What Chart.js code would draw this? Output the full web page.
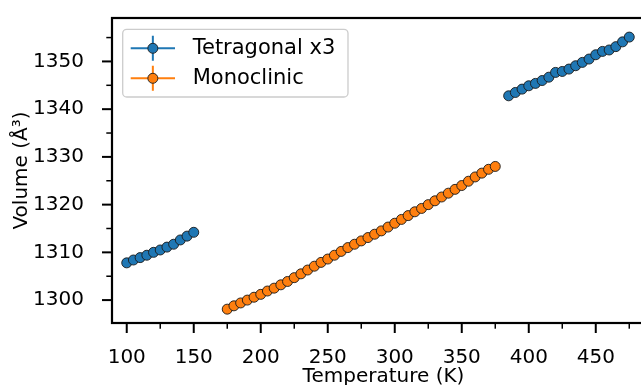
<!DOCTYPE html>
<html>
<head>
<meta charset="utf-8">
<title>Volume vs temperature</title>
<script src="https://cdn.jsdelivr.net/npm/chart.js@4.4.1/dist/chart.umd.min.js"></script>
<style>
  html, body { margin: 0; padding: 0; overflow: hidden; background: #fff; }
  #wrap { position: relative; width: 680px; height: 400px; }
</style>
</head>
<body>
<div id="wrap"><canvas id="volChart" width="680" height="400"></canvas></div>
<script>
// tetragonal cell (x3), low temperature branch
const tetraLowT = [100, 105, 110, 115, 120, 125, 130, 135, 140, 145, 150];
const tetraLowV = [1307.8, 1308.4, 1308.9, 1309.4, 1310.0, 1310.5, 1311.1, 1311.7, 1312.6, 1313.4, 1314.2];

// tetragonal cell (x3), high temperature branch
const tetraHighT = [385, 390, 395, 400, 405, 410, 415, 420, 425, 430, 435, 440, 445, 450, 455, 460, 465, 470, 475];
const tetraHighV = [1342.8, 1343.5, 1344.2, 1344.9, 1345.4, 1346.0, 1346.7, 1347.7, 1347.9, 1348.4,
                    1349.1, 1349.8, 1350.5, 1351.4, 1352.1, 1352.4, 1353.1, 1354.1, 1355.1];

// monoclinic cell
const monoT = [175, 180, 185, 190, 195, 200, 205, 210, 215, 220, 225, 230, 235, 240, 245, 250, 255, 260, 265, 270,
               275, 280, 285, 290, 295, 300, 305, 310, 315, 320, 325, 330, 335, 340, 345, 350, 355, 360, 365, 370, 375];
const monoV = [1298.1, 1298.8, 1299.4, 1300.0, 1300.6, 1301.2, 1301.9, 1302.5, 1303.2, 1303.9,
               1304.7, 1305.5, 1306.3, 1307.1, 1307.9, 1308.6, 1309.4, 1310.2, 1311.0, 1311.7,
               1312.4, 1313.1, 1313.8, 1314.5, 1315.3, 1316.1, 1316.9, 1317.7, 1318.5, 1319.2,
               1320.0, 1320.8, 1321.6, 1322.4, 1323.2, 1324.0, 1324.9, 1325.8, 1326.6, 1327.4, 1328.0];

const xTickLabels = [100, 150, 200, 250, 300, 350, 400, 450];
const yTickLabels = [1300, 1310, 1320, 1330, 1340, 1350];

const FONT = "'DejaVu Sans', sans-serif";
const BLUE = '#1f77b4';
const ORANGE = '#ff7f0e';

const toPoints = (xs, ys) => xs.map((x, i) => ({ x: x, y: ys[i] }));
const isTick = (list, v) => list.some(t => Math.abs(t - v) < 1e-6);

// outward ticks (major + minor) and the four-sided frame
const frameTicks = {
  id: 'frameTicks',
  afterDraw(chart) {
    const { ctx, chartArea: a, scales } = chart;
    ctx.save();
    ctx.strokeStyle = '#000';
    ctx.lineCap = 'butt';
    scales.x.ticks.forEach(t => {
      const px = scales.x.getPixelForValue(t.value);
      const major = isTick(xTickLabels, t.value);
      ctx.lineWidth = major ? 2 : 1.5;
      ctx.beginPath();
      ctx.moveTo(px, a.bottom);
      ctx.lineTo(px, a.bottom + (major ? 10 : 5.7));
      ctx.stroke();
    });
    scales.y.ticks.forEach(t => {
      const py = scales.y.getPixelForValue(t.value);
      const major = isTick(yTickLabels, t.value);
      ctx.lineWidth = major ? 2 : 1.5;
      ctx.beginPath();
      ctx.moveTo(a.left, py);
      ctx.lineTo(a.left - (major ? 10 : 5.7), py);
      ctx.stroke();
    });
    ctx.lineWidth = 2.2;
    ctx.strokeRect(a.left, a.top, a.right - a.left, a.bottom - a.top);
    ctx.restore();
  }
};

// legend with errorbar-style handles
const errLegend = {
  id: 'errLegend',
  afterDraw(chart) {
    const { ctx, chartArea: a } = chart;
    const x0 = a.left + 10.7, y0 = a.top + 11.3, w = 225.3, h = 67.7, r = 4;
    ctx.save();
    ctx.beginPath();
    ctx.roundRect(x0, y0, w, h, r);
    ctx.fillStyle = 'rgba(255,255,255,0.8)';
    ctx.fill();
    ctx.strokeStyle = '#cccccc';
    ctx.lineWidth = 1.3;
    ctx.stroke();
    chart.data.datasets.forEach((ds, i) => {
      const cy = y0 + 19 + i * 30;
      const hx0 = x0 + 8, hx1 = x0 + 52.3, cx = (hx0 + hx1) / 2;
      ctx.strokeStyle = ds.pointBackgroundColor;
      ctx.lineWidth = 2;
      ctx.beginPath();
      ctx.moveTo(hx0, cy); ctx.lineTo(hx1, cy);
      ctx.moveTo(cx, cy - 12.5); ctx.lineTo(cx, cy + 12.5);
      ctx.stroke();
      ctx.beginPath();
      ctx.arc(cx, cy, 5, 0, Math.PI * 2);
      ctx.fillStyle = ds.pointBackgroundColor;
      ctx.fill();
      ctx.strokeStyle = '#1a1a1a';
      ctx.lineWidth = 0.9;
      ctx.stroke();
      ctx.fillStyle = '#000';
      ctx.font = '21px ' + FONT;
      ctx.textAlign = 'left';
      ctx.textBaseline = 'middle';
      ctx.fillText(ds.label, x0 + 70, cy);
    });
    ctx.restore();
  }
};

new Chart(document.getElementById('volChart'), {
  type: 'scatter',
  data: {
    datasets: [
      {
        label: 'Tetragonal x3',
        data: toPoints(tetraLowT, tetraLowV).concat(toPoints(tetraHighT, tetraHighV)),
        pointRadius: 5,
        pointBackgroundColor: BLUE,
        pointBorderColor: '#1a1a1a',
        pointBorderWidth: 0.9,
        showLine: false
      },
      {
        label: 'Monoclinic',
        data: toPoints(monoT, monoV),
        pointRadius: 5,
        pointBackgroundColor: ORANGE,
        pointBorderColor: '#1a1a1a',
        pointBorderWidth: 0.9,
        showLine: false
      }
    ]
  },
  options: {
    responsive: false,
    animation: false,
    devicePixelRatio: 1,
    layout: { padding: { top: 18, right: 25, left: 0, bottom: 0 } },
    plugins: {
      legend: { display: false },
      tooltip: { enabled: false }
    },
    scales: {
      x: {
        type: 'linear',
        min: 89,
        max: 494.2,
        afterFit: (s) => { s.height = 77; s.paddingLeft = 0; s.paddingRight = 0; },
        grid: { display: false },
        border: { display: false },
        ticks: {
          stepSize: 25,
          includeBounds: false,
          autoSkip: false,
          maxRotation: 0,
          padding: 15,
          color: '#000',
          font: { family: FONT, size: 20 },
          callback: (v) => isTick(xTickLabels, v) ? String(Math.round(v)) : ''
        },
        title: {
          display: true,
          text: 'Temperature (K)',
          color: '#000',
          font: { family: FONT, size: 20 },
          padding: { top: 0, bottom: 11 }
        }
      },
      y: {
        type: 'linear',
        min: 1295.2,
        max: 1359.1,
        afterFit: (s) => { s.width = 112; s.paddingTop = 0; s.paddingBottom = 0; },
        grid: { display: false },
        border: { display: false },
        ticks: {
          stepSize: 5,
          includeBounds: false,
          autoSkip: false,
          padding: 20,
          color: '#000',
          font: { family: FONT, size: 20 },
          callback: (v) => isTick(yTickLabels, v) ? String(Math.round(v)) : ''
        },
        title: {
          display: true,
          text: 'Volume (Å³)',
          color: '#000',
          font: { family: FONT, size: 20 },
          padding: { top: 10, bottom: 0 }
        }
      }
    }
  },
  plugins: [frameTicks, errLegend]
});
</script>
</body>
</html>
